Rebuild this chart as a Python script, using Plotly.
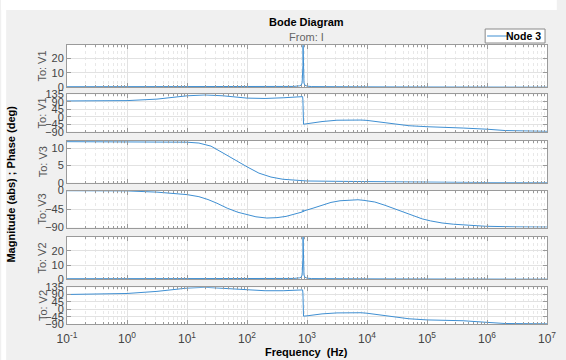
import plotly.graph_objects as go

# ---------------- data ----------------
freq_mag = [0.1, 1, 10, 100, 300, 600, 750, 800, 830, 845, 855, 860, 865, 875, 890,
            920, 1000, 1200, 2000, 1e4, 1e5, 1e6, 1e7]
mag_v1 = [0.40, 0.40, 0.40, 0.38, 0.40, 0.6, 1.0, 1.5, 3.0, 7.0, 15.0, 29.0, 15.0, 7.0,
          3.0, 1.5, 0.8, 0.5, 0.35, 0.3, 0.2, 0.12, 0.1]
mag_v2 = [0.40, 0.40, 0.40, 0.38, 0.40, 0.6, 1.0, 1.5, 3.0, 7.0, 15.0, 29.5, 15.0, 7.0,
          3.0, 1.5, 0.8, 0.5, 0.35, 0.3, 0.2, 0.12, 0.1]

freq_ph1 = [0.1, 0.316, 1, 3.16, 5.6, 10, 20, 40, 100, 200, 400, 710, 845, 855, 860,
            865, 875, 1000, 1780, 3160, 5000, 7940, 1e4, 1.58e4, 2.51e4, 5e4, 1e5,
            2e5, 4e5, 1e6, 2e6, 1e7]
phase_v1 = [95, 95.5, 97, 106, 116, 126, 131, 126, 112, 110, 114, 120, 121, 100, 40,
            -25, -45, -42, -29, -21, -19, -20, -22, -30, -40, -54, -60, -63, -68,
            -75, -83, -88]
freq_ph2 = freq_ph1
phase_v2 = [91, 93, 97, 110, 122, 130, 135, 128, 119, 114, 114, 118, 119, 100, 40,
            -25, -42, -40, -28, -22, -20, -21, -24, -33, -44, -58, -65, -66, -70,
            -80, -87, -89]

freq_v3 = [0.1, 1, 3.16, 10, 15.8, 25.1, 39.8, 63.1, 100, 158, 251, 398, 631, 1000,
           3160, 1e4, 3.16e4, 1e5, 1e6, 1e7]
mag_v3 = [12.0, 12.0, 12.0, 11.85, 11.6, 10.7, 8.7, 6.6, 4.65, 2.8, 1.65, 1.0, 0.7,
          0.5, 0.4, 0.3, 0.2, 0.1, 0.04, 0.02]

freq_ph3 = [0.1, 1, 3.16, 5, 10, 15.8, 22.4, 31.6, 46.8, 70.8, 100, 141, 214, 316,
            447, 631, 845, 855, 860, 865, 875, 1260, 1780, 2510, 3550, 4900, 7080,
            8910, 1.35e4, 2e4, 2.82e4, 3.98e4, 6e4, 8.3e4, 1.15e5, 1.78e5, 2.75e5,
            5e5, 9.5e5, 3.16e6, 1e7]
phase_v3 = [-0.5, -1, -4, -6, -10, -15, -22, -31, -43, -53, -59, -64, -67, -66,
            -63, -58, -52, -49, -47, -52, -50, -43, -35, -29, -25, -23, -22.5, -24,
            -28, -36, -44, -52, -63, -69, -74, -79, -82, -85, -87, -88.5, -89]

tick_vals = [0.1, 1, 10, 100, 1e3, 1e4, 1e5, 1e6, 1e7]
tick_text = ["10<sup>-1</sup>", "10<sup>0</sup>", "10<sup>1</sup>", "10<sup>2</sup>",
             "10<sup>3</sup>", "10<sup>4</sup>", "10<sup>5</sup>", "10<sup>6</sup>",
             "10<sup>7</sup>"]
mag_ticks = [0, 10, 20]
mag3_ticks = [0, 5, 10]
phase_ticks = [-90, -45, 0, 45, 90, 135]
phase3_ticks = [-90, -45, 0]
row_labels = ["To: V1", "To: V1", "To: V3", "To: V3", "To: V2", "To: V2"]

# ---------------- layout geometry ----------------
W, H = 566, 360
ML, MR, MT, MB = 67, 10, 45, 36
PW = W - ML - MR
PH = H - MT - MB


def py(px):
    return (H - MB - px) / PH


def pxx(px):
    return (px - ML) / PW


panels_px = [(45, 87.3), (94.3, 131.7), (141, 182.7), (190.5, 227.5),
             (237, 279.3), (287.3, 324)]

LINE = "#3f8fd2"
AX = "#9a9a9a"
TXT = "#444444"
FONT = "Liberation Sans, Arial, sans-serif"

series = [
    (freq_mag, mag_v1, [0, 29.2], mag_ticks),
    (freq_ph1, phase_v1, [-90, 135], phase_ticks),
    (freq_v3, mag_v3, [0, 12.2], mag3_ticks),
    (freq_ph3, phase_v3, [-90, 0], phase3_ticks),
    (freq_mag, mag_v2, [0, 29.6], mag_ticks),
    (freq_ph2, phase_v2, [-90, 135], phase_ticks),
]

minor_vals = [m * 10 ** e for e in range(-1, 7) for m in range(2, 10)]

fig = go.Figure()
annotations = []
for i, (fx, fyv, yr, yt) in enumerate(series):
    n = i + 1
    xa = "x" if n == 1 else f"x{n}"
    ya = "y" if n == 1 else f"y{n}"
    fig.add_trace(go.Scatter(x=fx, y=fyv, mode="lines", name="Node 3",
                             line=dict(color=LINE, width=1),
                             xaxis=xa, yaxis=ya, showlegend=False))
    top, bot = panels_px[i]
    xkey = "xaxis" if n == 1 else f"xaxis{n}"
    ykey = "yaxis" if n == 1 else f"yaxis{n}"
    fig.update_layout({
        xkey: dict(type="log", range=[-1, 7], domain=[0, 1], anchor=ya,
                   tickmode="array", tickvals=tick_vals, ticktext=tick_text,
                   showticklabels=(n == 6), ticks="inside", ticklen=4,
                   tickcolor=AX, showline=True, linecolor=AX, linewidth=1,
                   mirror="allticks", showgrid=True, gridcolor="#e2e2e2",
                   zeroline=False, ticklabelstandoff=4,
                   tickfont=dict(family=FONT, size=12, color=TXT),
                   minor=dict(tickmode="array", tickvals=minor_vals,
                              ticks="inside", ticklen=2, tickcolor=AX,
                              showgrid=True, gridcolor="#e8e8e8",
                              griddash="dot"),
                   matches=None if n == 1 else "x"),
        ykey: dict(range=yr, domain=[py(bot), py(top)], anchor=xa,
                   tickmode="array", tickvals=yt, ticks="inside", ticklen=4,
                   tickcolor=AX, showline=True, linecolor=AX, linewidth=1,
                   mirror="allticks", showgrid=True, gridcolor="#e2e2e2",
                   zeroline=False, ticklabelstandoff=0,
                   tickfont=dict(family=FONT, size=11, color=TXT)),
    })
    annotations.append(dict(text=row_labels[i], xref="paper", yref="paper",
                            x=pxx(42), y=py((top + bot) / 2), textangle=-90,
                            showarrow=False, xanchor="center", yanchor="middle",
                            font=dict(family=FONT, size=11, color="#555555")))


def note(text, x, y, size=11, color="#000", angle=0, xanchor="center"):
    return dict(text=text, xref="paper", yref="paper", x=pxx(x), y=py(y),
                textangle=angle, showarrow=False, xanchor=xanchor,
                yanchor="middle", font=dict(family=FONT, size=size, color=color))


annotations += [
    note("<b>Bode Diagram</b>", 311, 22),
    note("From: I", 311, 37, color="#666666"),
    note("<b>Magnitude (abs) ; Phase (deg)</b>", 9, 184.5, angle=-90),
    note("<b>Frequency  (Hz)</b>", 311, 352),
    note("<b>Node 3</b>", 552, 36, size=10.5, xanchor="right"),
]

shapes = [
    # white strips of the original screenshot
    dict(type="rect", xref="paper", yref="paper", x0=pxx(0), x1=pxx(W),
         y0=py(10), y1=py(0), fillcolor="white", line=dict(width=0), layer="below"),
    dict(type="rect", xref="paper", yref="paper", x0=pxx(0), x1=pxx(5),
         y0=py(H), y1=py(0), fillcolor="white", line=dict(width=0), layer="below"),
    # legend box
    dict(type="rect", xref="paper", yref="paper", x0=pxx(493), x1=pxx(554),
         y0=py(43), y1=py(29), fillcolor="white", line=dict(color="#8a8a8a", width=1)),
    dict(type="line", xref="paper", yref="paper", x0=pxx(495), x1=pxx(517),
         y0=py(36), y1=py(36), line=dict(color=LINE, width=1)),
]

fig.update_layout(width=W, height=H, margin=dict(l=ML, r=MR, t=MT, b=MB),
                  paper_bgcolor="#f0f0f0", plot_bgcolor="white",
                  showlegend=False, annotations=annotations, shapes=shapes,
                  font=dict(family=FONT))

fig.write_html("out.html", config={"displayModeBar": False},
               post_script="document.body.style.margin='0px';")
